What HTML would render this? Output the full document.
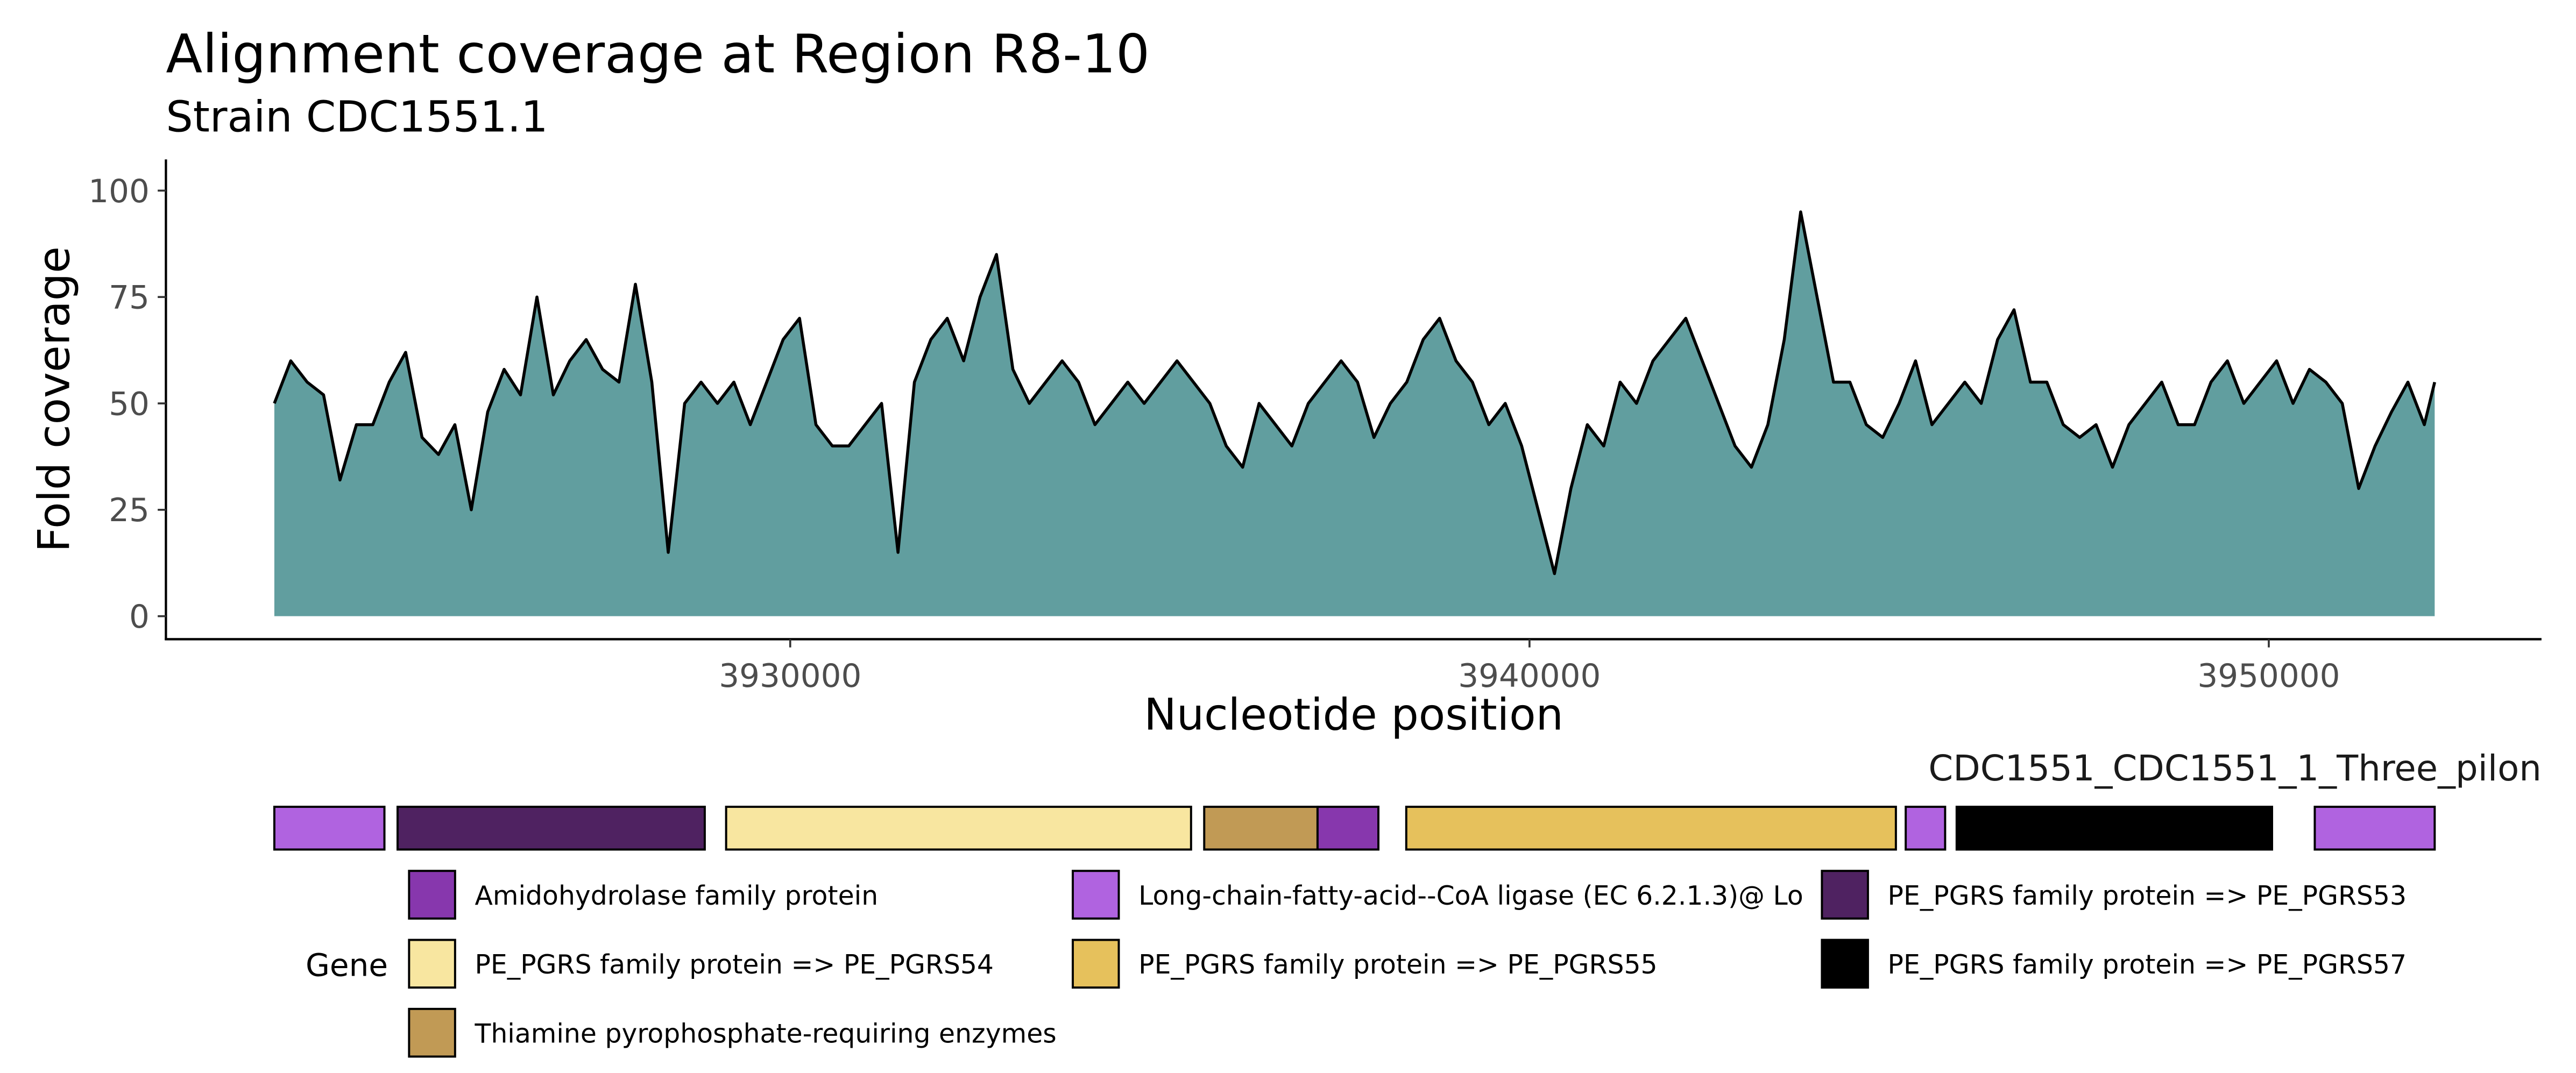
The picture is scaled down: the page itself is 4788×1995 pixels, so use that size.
<!DOCTYPE html>
<html><head><meta charset="utf-8">
<style>
html,body{margin:0;padding:0;background:#fff;}
svg{display:block;}
text{font-family:"DejaVu Sans","Liberation Sans",sans-serif;}
</style></head>
<body>
<svg id="chart" xmlns="http://www.w3.org/2000/svg" width="4788" height="1995" viewBox="0 0 1568 653" preserveAspectRatio="none">
  <text x="101" y="44" font-size="32.5" fill="#000">Alignment coverage at Region R8-10</text>
  <text x="101" y="80" font-size="26" fill="#000">Strain CDC1551.1</text>
  <text transform="translate(42,243) rotate(-90)" text-anchor="middle" font-size="26.5" fill="#000">Fold coverage</text>
  <text x="824" y="444" text-anchor="middle" font-size="26.5" fill="#000">Nucleotide position</text>
  <text x="1547" y="475" text-anchor="end" font-size="21.5" fill="#1a1a1a">CDC1551_CDC1551_1_Three_pilon</text>
  <g id="plot"></g>
  <g id="yaxis"></g>
  <g id="xaxis"></g>
  <g id="genes"></g>
  <g id="legend">
    <text x="186" y="594" font-size="19" fill="#000">Gene</text>
  </g>
</svg>
<script>
const NS = "http://www.w3.org/2000/svg";
// ---- data ----
const covStart = 3923022;
const covStep = 222;
const coverage = [50,60,55,52,32,45,45,55,62,42,38,45,25,48,58,52,75,52,60,65,58,55,78,55,15,50,55,50,55,45,55,65,70,45,40,40,45,50,15,55,65,70,60,75,85,58,50,55,60,55,45,50,55,50,55,60,55,50,40,35,50,45,40,50,55,60,55,42,50,55,65,70,60,55,45,50,40,25,10,30,45,40,55,50,60,65,70,60,50,40,35,45,65,95,75,55,55,45,42,50,60,45,50,55,50,65,72,55,55,45,42,45,35,45,50,55,45,45,55,60,50,55,60,50,58,55,50,30,40,48,55,45];
const covEnd = 3952244;
const covEndValue = 55;
const yTicks = [0,25,50,75,100];
const xTicks = [3930000,3940000,3950000];
const xTickLabels = ["3930000","3940000","3950000"];
const geneStarts = [3923022,3924689,3929133,3935600,3937133,3938333,3945089,3945778,3950622];
const geneEnds   = [3924511,3928844,3935422,3937133,3937956,3944956,3945622,3950044,3952244];
const geneTypes  = ["ligase","pgrs53","pgrs54","thiamine","amido","pgrs55","ligase","pgrs57","ligase"];
const legendKeys = ["amido","ligase","pgrs53","pgrs54","pgrs55","pgrs57","thiamine"];
const legendLabels = ["Amidohydrolase family protein","Long-chain-fatty-acid--CoA ligase (EC 6.2.1.3)@ Lo","PE_PGRS family protein => PE_PGRS53","PE_PGRS family protein => PE_PGRS54","PE_PGRS family protein => PE_PGRS55","PE_PGRS family protein => PE_PGRS57","Thiamine pyrophosphate-requiring enzymes"];
const typeColors = {amido:"#8737ad",ligase:"#b063e0",pgrs53:"#4f2261",pgrs54:"#f8e6a0",pgrs55:"#e6c15c",pgrs57:"#000000",thiamine:"#c19a55"};

// ---- scales ----
const xs = v => 481 + (v - 3930000) * 450 / 10000;
const ys = v => 375 - v * 2.59;

function mk(tag, attrs, parent){ const e=document.createElementNS(NS,tag); for(const k in attrs) e.setAttribute(k,attrs[k]); parent.appendChild(e); return e; }

const plot = document.getElementById('plot');
const pts = coverage.map((v,i)=>[xs(covStart+i*covStep), ys(v)]);
pts.push([xs(covEnd), ys(covEndValue)]);
let d = "M"+pts.map(p=>p[0].toFixed(2)+","+p[1].toFixed(2)).join(" L");
const area = mk('path',{d: d+" L"+xs(covEnd).toFixed(2)+","+ys(0)+" L"+xs(covStart).toFixed(2)+","+ys(0)+" Z", fill:"#619e9f"}, plot);


const line = mk('path',{d:d, fill:"none", stroke:"#000", "stroke-width":"1.8", "stroke-linejoin":"round"}, plot);



const ya = document.getElementById('yaxis');
mk('line',{x1:101,y1:97,x2:101,y2:389.5,stroke:"#000","stroke-width":"1.4"},ya);
yTicks.forEach(t=>{
  mk('line',{x1:96,y1:ys(t),x2:101,y2:ys(t),stroke:"#333","stroke-width":"1.2"},ya);
  const tx = mk('text',{x:91,y:ys(t)+7,"text-anchor":"end","font-size":"19.5",fill:"#4d4d4d"},ya);
  tx.textContent = t;
  
  
});
const xa = document.getElementById('xaxis');
mk('line',{x1:100.3,y1:389,x2:1547,y2:389,stroke:"#000","stroke-width":"1.4"},xa);
xTicks.forEach((t,i)=>{
  mk('line',{x1:xs(t),y1:389,x2:xs(t),y2:394,stroke:"#333","stroke-width":"1.2"},xa);
  const tx = mk('text',{x:xs(t),y:418,"text-anchor":"middle","font-size":"19.5",fill:"#4d4d4d"},xa);
  tx.textContent = xTickLabels[i];
  
  
});
const gg = document.getElementById('genes');
geneStarts.forEach((s,i)=>{
  const r = mk('rect',{x:xs(s),y:491,width:xs(geneEnds[i])-xs(s),height:26,fill:typeColors[geneTypes[i]],stroke:"#000","stroke-width":"1.3"},gg);
  
  
});
const lg = document.getElementById('legend');
const colX = [249,653,1109];
const rowY = [530,572,614];
legendKeys.forEach((k,i)=>{
  const col = i%3, row = Math.floor(i/3);
  const key = mk('rect',{x:colX[col],y:rowY[row],width:28,height:29,fill:typeColors[k],stroke:"#000","stroke-width":"1.3"},lg);
  
  
  const t = mk('text',{x:colX[col]+40,y:rowY[row]+20.5,"font-size":"16",fill:"#000"},lg);
  t.textContent = legendLabels[i];
  
  
});
</script>
</body></html>
